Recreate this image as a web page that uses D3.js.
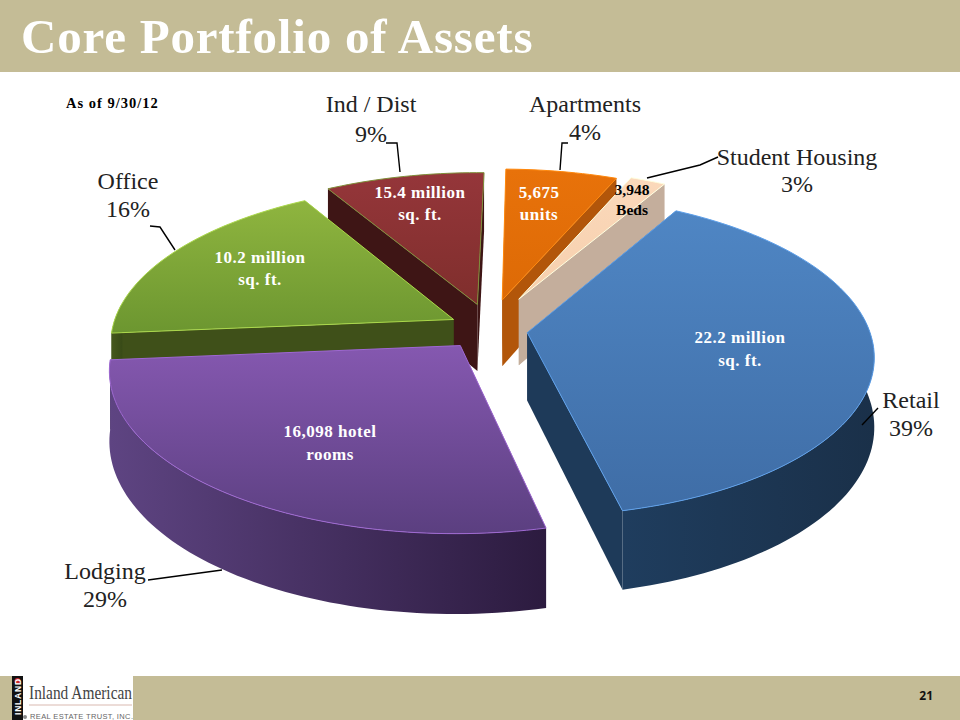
<!DOCTYPE html>
<html><head><meta charset="utf-8">
<script src="https://cdn.jsdelivr.net/npm/d3@7"></script>
<style>html,body{margin:0;padding:0;background:#fff}svg{display:block}</style></head>
<body><div id="chart"></div>
<script>
// ---- data
const categories = ["Retail", "Lodging", "Office", "Ind / Dist", "Apartments", "Student Housing"];
const shares = [39, 29, 16, 9, 4, 3];
const detailLine1 = ["22.2 million", "16,098 hotel", "10.2 million", "15.4 million", "5,675", "3,948"];
const detailLine2 = ["sq. ft.", "rooms", "sq. ft.", "sq. ft.", "units", "Beds"];
const titleText = "Core Portfolio of Assets";
const asOfText = "As of 9/30/12";
const pageNumber = "21";

// ---- layout and style
const W = 960, H = 720;
const explode = [0.11, 0.13, 0.127, 0.17, 0.2, 0.22];
const topFrom = ["#4f86c4", "#8558b0", "#8fb53f", "#95363a", "#e8720a", "#fbd9bb"];
const topTo = ["#3f6da6", "#5b3f80", "#6c9630", "#7f2e2c", "#dd6a06", "#f6cfad"];
const wallFrom = ["#1f3d5e", "#5e4482", "#46581d", "#4a1a1a", "#b65a0a", "#c8b3a0"];
const wallTo = ["#1a3049", "#2c1b3f", "#384a17", "#3a1212", "#a85006", "#bda797"];
const cutFill = ["#1e3a59", "#3a2850", "#3f5019", "#3e1515", "#b2560a", "#c4ae9c"];
const drawOrder = [3, 4, 5, 2, 0, 1];
const labelPos = [[911, 408, 436], [105, 579, 607], [128, 189, 217], [371, 112, 142], [585, 112, 140], [797, 165, 192]];
const leaders = [
  [[862, 425], [878, 408]],
  [[222, 570], [148, 580]],
  [[175, 250], [160, 227], [150, 226]],
  [[400, 172], [397, 143], [386, 143]],
  [[560, 170], [562, 143], [568, 143]],
  [[647, 178], [700, 165], [718, 157]]
];
const detailPos = [[740, 343, 366], [330, 437, 460], [260, 263, 285], [420, 198, 220], [539, 198, 220], [632, 195, 215]];

const svg = d3.select("#chart").append("svg").attr("width", W).attr("height", H)
  .attr("viewBox", [0, 0, W, H]);
const defs = svg.append("defs");
const tan = "#c4bc96";
function grad(id, c0, c1, x2, y2) {
  const g = defs.append("linearGradient").attr("id", id)
    .attr("x1", 0).attr("y1", 0).attr("x2", x2).attr("y2", y2);
  g.append("stop").attr("offset", 0).attr("stop-color", c0);
  g.append("stop").attr("offset", 1).attr("stop-color", c1);
}
categories.forEach((c, i) => {
  grad("top" + i, topFrom[i], topTo[i], 0, 1);
  grad("wall" + i, wallFrom[i], wallTo[i], 1, 0);
});

// banners
svg.append("rect").attr("width", W).attr("height", 72).attr("fill", tan);
svg.append("rect").attr("y", 676).attr("width", W).attr("height", 44).attr("fill", tan);
svg.append("text").attr("x", 21).attr("y", 53).text(titleText)
  .attr("font-family", "'Liberation Serif'").attr("font-weight", "bold")
  .attr("font-size", 49).attr("letter-spacing", 0.8).attr("fill", "#fff");
svg.append("text").attr("x", 66).attr("y", 108).text(asOfText)
  .attr("font-family", "'Liberation Serif'").attr("font-weight", "bold")
  .attr("font-size", 14.5).attr("letter-spacing", 1).attr("fill", "#000");

// ---- pie: projected in perspective from a unit disc
const cx = 490, cy = 330, Rx = 342, Ry = 157, persp = 0.14, thick = 68;
const xScale = d3.scaleLinear().domain([0, 1]).range([0, Rx]);
const yScale = d3.scaleLinear().domain([0, 1]).range([0, Ry]);
const project = (u, v, drop) => {
  const w = 1 + persp * v;
  return [cx + xScale(u) / w, cy + (-yScale(v) + (drop ? thick : 0)) / w];
};
const startDeg = 28.6;
const arcs = d3.pie().sort(null).value(d => d)
  .startAngle(startDeg * Math.PI / 180)
  .endAngle((startDeg + 360) * Math.PI / 180)(shares);
// the 3-D view of the source chart stretches some of the pie's sectors:
// pie angle (degrees) -> angle seen on the tilted disc
const viewAngle = d3.scaleLinear()
  .domain([28.6, 169, 273.4, 331, 363.4, 377.8, 388.6])
  .range([30, 167, 265, 329.7, 361, 383, 390]);
const line = d3.line();
const pieG = svg.append("g");

drawOrder.forEach(i => {
  const a = arcs[i];
  const toView = r => viewAngle(r * 180 / Math.PI) * Math.PI / 180;
  const a0 = toView(a.startAngle), a1 = toView(a.endAngle);
  const mid = (a.startAngle + a.endAngle) / 2;
  const ou = explode[i] * Math.sin(mid), ov = explode[i] * Math.cos(mid);
  const n = Math.max(8, Math.ceil((a1 - a0) * 40));
  const angles = d3.range(n + 1).map(k => a0 + (a1 - a0) * k / n);
  const disc = angles.map(t => [ou + Math.sin(t), ov + Math.cos(t), t]);
  const rimTop = disc.map(d => project(d[0], d[1], false));
  const rimBot = disc.map(d => project(d[0], d[1], true));
  const apexTop = project(ou, ov, false), apexBot = project(ou, ov, true);
  const g = pieG.append("g");
  // cut faces, far one first
  const faces = [
    [apexTop, rimTop[0], rimBot[0], apexBot],
    [apexTop, rimTop[n], rimBot[n], apexBot]
  ].sort((p, q) => d3.min(p, d => d[1]) - d3.min(q, d => d[1]));
  faces.forEach(f => g.append("path").attr("d", line(f) + "Z").attr("fill", cutFill[i]));
  // outer wall, only the part facing the viewer
  const front = d3.range(n + 1).filter(k => Math.cos(angles[k]) < 0.12);
  if (front.length > 1) {
    const t = front.map(k => rimTop[k]), b = front.map(k => rimBot[k]).reverse();
    g.append("path").attr("d", line(t.concat(b)) + "Z").attr("fill", `url(#wall${i})`);
  }
  // top
  g.append("path").attr("d", line([apexTop].concat(rimTop)) + "Z")
    .attr("fill", `url(#top${i})`)
    .attr("stroke", i === 3 ? "#7f8f3a" : d3.color(topFrom[i]).brighter(0.5))
    .attr("stroke-width", 1).attr("stroke-linejoin", "round");
});

// ---- labels
const serif = "'Liberation Serif'";
categories.forEach((c, i) => {
  const [x, y1, y2] = labelPos[i];
  svg.append("text").attr("x", x).attr("y", y1).attr("text-anchor", "middle").text(c)
    .attr("font-family", serif).attr("font-size", 24).attr("fill", "#222");
  svg.append("text").attr("x", x).attr("y", y2).attr("text-anchor", "middle").text(shares[i] + "%")
    .attr("font-family", serif).attr("font-size", 24).attr("fill", "#222");
  svg.append("path").attr("d", line(leaders[i])).attr("fill", "none")
    .attr("stroke", "#000").attr("stroke-width", 1.4);
  const [dx, d1, d2] = detailPos[i];
  const dark = i === 5;
  [[detailLine1[i], d1], [detailLine2[i], d2]].forEach(([s, y]) =>
    svg.append("text").attr("x", dx).attr("y", y).attr("text-anchor", "middle").text(s)
      .attr("font-family", serif).attr("font-weight", "bold")
      .attr("font-size", dark ? 15.5 : 17).attr("letter-spacing", dark ? 0 : 0.5)
      .attr("fill", dark ? "#000" : "#fff"));
});

// ---- footer logo
svg.append("rect").attr("x", 12).attr("y", 676).attr("width", 121).attr("height", 44).attr("fill", "#fff");
svg.append("rect").attr("x", 12).attr("y", 676).attr("width", 11).attr("height", 44).attr("fill", "#111");
svg.append("circle").attr("cx", 17.5).attr("cy", 681).attr("r", 3).attr("fill", "#c8282c");
svg.append("text").attr("transform", "translate(20.5,715) rotate(-90)").text("INLAND")
  .attr("font-family", "'Liberation Sans'").attr("font-weight", "bold")
  .attr("font-size", 8.5).attr("letter-spacing", 0.8).attr("fill", "#fff");
svg.append("text").attr("x", 29).attr("y", 699).text("Inland American")
  .attr("font-family", serif).attr("font-size", 19).attr("fill", "#444")
  .attr("textLength", 103).attr("lengthAdjust", "spacingAndGlyphs");
svg.append("line").attr("x1", 29).attr("x2", 132).attr("y1", 705).attr("y2", 705)
  .attr("stroke", "#d9b9b0").attr("stroke-width", 1);
svg.append("circle").attr("cx", 25).attr("cy", 717).attr("r", 2).attr("fill", "#888");
svg.append("text").attr("x", 30).attr("y", 719).text("REAL ESTATE TRUST, INC.")
  .attr("font-family", "'Liberation Sans'").attr("font-size", 7.5)
  .attr("fill", "#666").attr("textLength", 103).attr("lengthAdjust", "spacing");
svg.append("text").attr("x", 933).attr("y", 700).attr("text-anchor", "end").text(pageNumber)
  .attr("font-family", "'Open Sans'").attr("font-weight", "bold").attr("font-size", 12).attr("fill", "#111");
</script></body></html>
